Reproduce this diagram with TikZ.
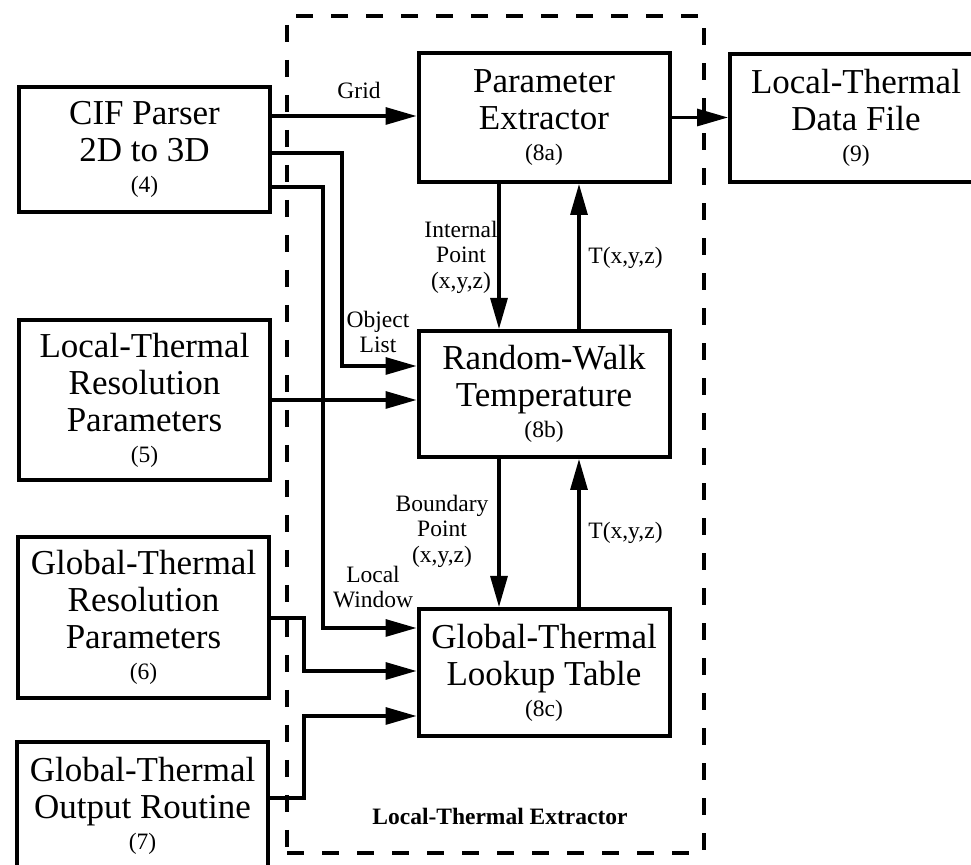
\documentclass[tikz,border=0pt]{standalone}
\usepackage{fontspec}
\setmainfont{Liberation Serif}
\usetikzlibrary{arrows.meta}
\newcommand\mainsz{\fontsize{17.5}{18.5}\selectfont}
\newcommand\numsz{\fontsize{11.75}{12.75}\selectfont}
\begin{document}
\begin{tikzpicture}[x=0.5pt,y=-0.5pt,
  blk/.style={draw, line width=2pt, minimum width=125.5pt, inner sep=0pt, align=center, font=\mainsz},
  arr/.style={line width=1.6pt, -{Triangle[length=15.5pt,width=8.5pt]}},
  lbl/.style={inner sep=0pt, align=center, font=\numsz},
  frame/.style={draw, line width=2pt, dash pattern=on 8.5pt off 9pt, inner sep=0pt}]
\useasboundingbox (0,0) rectangle (971,865);

% container
\node[frame, minimum width=208.5pt, minimum height=418.5pt] (lte) at (495.5,434.5) {};
\node[font=\fontsize{11.75}{12.75}\selectfont\bfseries, inner sep=0pt, anchor=base] (ltel) at (500,825) {Local-Thermal Extractor};

% left column
\node[blk, minimum height=62.5pt] (cif) at (144.5,149.5) {CIF Parser\\2D to 3D\\[-3pt]{\numsz (4)}};
\node[blk, minimum height=80pt] (ltr) at (144.5,400) {Local-Thermal\\Resolution\\Parameters\\[-3pt]{\numsz (5)}};
\node[blk, minimum height=80.5pt] (gtr) at (143.5,617.5) {Global-Thermal\\Resolution\\Parameters\\[-3pt]{\numsz (6)}};
\node[blk, minimum height=64pt] (gto) at (142.5,806) {Global-Thermal\\Output Routine\\[-3pt]{\numsz (7)}};

% middle column
\node[blk, minimum height=64.5pt] (pe) at (544,117.5) {Parameter\\Extractor\\[-3pt]{\numsz (8a)}};
\node[blk, minimum height=63pt] (rw) at (544,394) {Random-Walk\\Temperature\\[-3pt]{\numsz (8b)}};
\node[blk, minimum height=63.5pt] (lut) at (544,672.5) {Global-Thermal\\Lookup Table\\[-3pt]{\numsz (8c)}};

% right
\node[blk, minimum height=64pt, minimum width=126pt] (df) at (856,118) {Local-Thermal\\Data File\\[-3pt]{\numsz (9)}};

% connectors
\draw[arr] (cif.east |- 0,116) -- (pe.west |- 0,116);
\draw[arr] (pe.east) -- (df.west |- pe.east);
\draw[arr] (cif.east |- 0,153) -| (342,366) -- (rw.west |- 0,366);
\draw[arr] (cif.east |- 0,187) -| (323,628) -- (lut.west |- 0,628);
\draw[arr] (ltr.east) -- (rw.west |- ltr.east);
\draw[arr] (gtr.east |- 0,618) -| (304,671) -- (lut.west |- 0,671);
\draw[arr] (gto.east |- 0,798) -| (304,716) -- (lut.west |- 0,716);
\draw[arr] (pe.south -| 499,0) -- (rw.north -| 499,0);
\draw[arr] (rw.north -| 579,0) -- (pe.south -| 579,0);
\draw[arr] (rw.south -| 499,0) -- (lut.north -| 499,0);
\draw[arr] (lut.north -| 579,0) -- (rw.south -| 579,0);

% labels
\node[lbl, anchor=base] (grid) at (359,99) {Grid};
\node[lbl] (objl) at (378,332) {Object\\List};
\node[lbl] (intp) at (461,257) {Internal\\Point\\(x,y,z)};
\node[lbl, anchor=base west] (t1) at (588,264) {T(x,y,z)};
\node[lbl] (bdp) at (442,531) {Boundary\\Point\\(x,y,z)};
\node[lbl, anchor=base west] (t2) at (588,539) {T(x,y,z)};
\node[lbl] (lwin) at (373,587) {Local\\Window};
\end{tikzpicture}
\end{document}
